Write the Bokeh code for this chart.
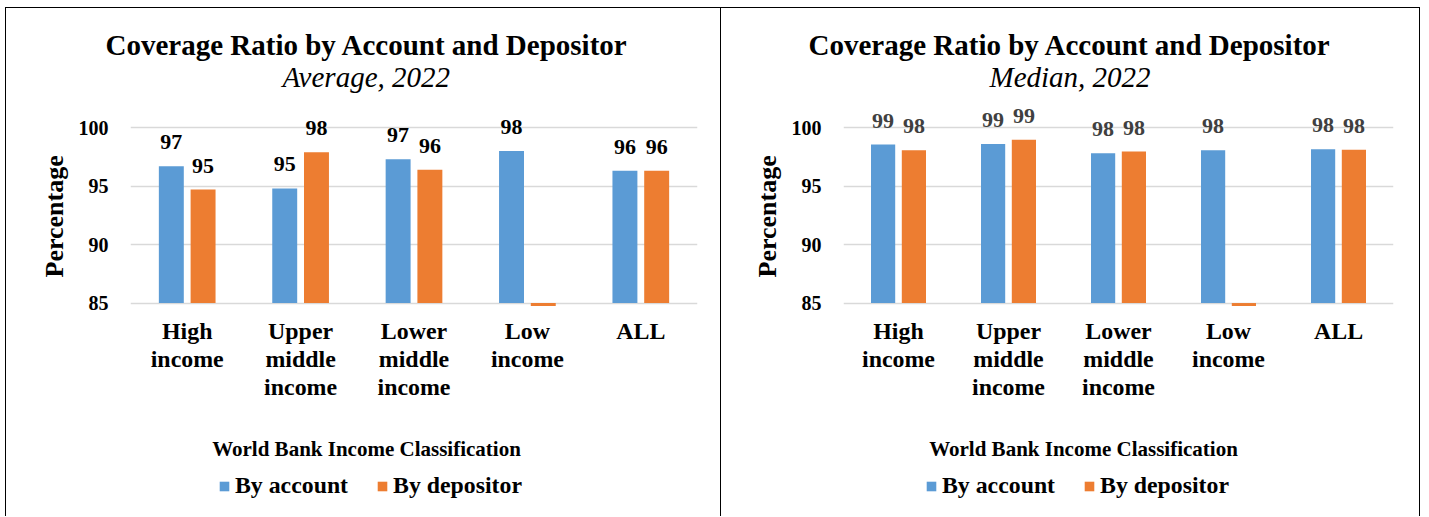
from bokeh.plotting import figure
from bokeh.models import (FactorRange, ColumnDataSource, LabelSet, Label, Title, Legend,
                          LegendItem, FixedTicker, Range1d)
from bokeh.transform import dodge
from bokeh.layouts import row
from bokeh.embed import file_html
from bokeh.resources import INLINE

# ---------------- data ----------------
categories = ["High\nincome", "Upper\nmiddle\nincome", "Lower\nmiddle\nincome", "Low\nincome", "ALL"]
avg_by_account = [96.7, 94.8, 97.3, 98.0, 96.3]
avg_by_depositor = [94.7, 97.9, 96.4, 0.0, 96.3]
med_by_account = [98.55, 98.6, 97.8, 98.05, 98.15]
med_by_depositor = [98.05, 98.95, 97.95, 0.0, 98.1]
y_ticks = [85, 90, 95, 100]
series_names = ["By account", "By depositor"]
main_title = "Coverage Ratio by Account and Depositor"
subtitles = ["Average, 2022", "Median, 2022"]
x_title = "World Bank Income Classification"
y_title = "Percentage"

FONT = "Liberation Serif"
BLUE = "#5B9BD5"
ORANGE = "#ED7D31"
Y_MIN = 85          # value axis minimum (bars start here)
CLIP = 84.75        # plot-area floor: bars below the axis minimum are cut here


def lbl(vals):
    return [f"{v:.0f}" if v >= Y_MIN else "" for v in vals]


def make_panel(width, left, right, subtitle, acc, dep, label_color,
               title_off, sub_off, axis_x, legend_x, styles):
    p = figure(x_range=FactorRange(factors=categories), y_range=Range1d(66.67, 101.8),
               width=width, height=509, output_backend="svg", toolbar_location=None,
               min_border_left=left, min_border_right=right,
               min_border_top=98, min_border_bottom=0, styles=styles)
    src = ColumnDataSource(dict(cat=categories, acc=acc, dep=dep,
                                acc_top=[max(v, CLIP) for v in acc],
                                dep_top=[max(v, CLIP) for v in dep],
                                acc_lbl=lbl(acc), dep_lbl=lbl(dep),
                                acc_y=[max(v, Y_MIN) for v in acc],
                                dep_y=[max(v, Y_MIN) for v in dep]))
    r1 = p.vbar(x=dodge("cat", -0.14, range=p.x_range), top="acc_top", bottom=Y_MIN, width=0.22,
                source=src, fill_color=BLUE, line_color=None)
    r2 = p.vbar(x=dodge("cat", 0.14, range=p.x_range), top="dep_top", bottom=Y_MIN, width=0.22,
                source=src, fill_color=ORANGE, line_color=None)
    for xo, yf, tf in [(-0.14, "acc_y", "acc_lbl"), (0.14, "dep_y", "dep_lbl")]:
        p.add_layout(LabelSet(x=dodge("cat", xo, range=p.x_range), y=yf, text=tf, source=src,
                              text_align="center", text_baseline="alphabetic", y_offset=17,
                              text_font=FONT, text_font_style="bold", text_font_size="22px",
                              text_color=label_color))

    p.outline_line_color = None
    p.background_fill_color = "white"
    p.border_fill_color = "white"
    p.xgrid.grid_line_color = None
    p.ygrid.grid_line_color = "#D9D9D9"
    p.ygrid.grid_line_width = 1.5
    p.yaxis.ticker = FixedTicker(ticks=y_ticks)

    for ax in (p.xaxis[0], p.yaxis[0]):
        ax.axis_line_color = None
        ax.major_tick_line_color = None
        ax.minor_tick_line_color = None
        ax.major_tick_out = 0
        ax.major_tick_in = 0
        ax.major_label_text_font = FONT
        ax.major_label_text_font_style = "bold"
        ax.major_label_text_color = "black"
    p.yaxis.major_label_text_font_size = "20px"
    p.yaxis.major_label_standoff = 22
    p.xaxis.fixed_location = Y_MIN
    p.xaxis.major_label_text_font_size = "23.9px"
    p.xaxis.major_label_text_line_height = 1.08
    p.xaxis.major_label_standoff = 15

    # titles (first added = closest to the frame)
    p.add_layout(Title(text=subtitle, align="left", offset=sub_off, text_font=FONT,
                       text_font_style="italic", text_font_size="29px",
                       text_color="black", standoff=27), "above")
    p.add_layout(Title(text=main_title, align="left", offset=title_off, text_font=FONT,
                       text_font_style="bold", text_font_size="29px",
                       text_color="black", standoff=-30), "above")
    # value-axis title, placed beside the tick labels
    p.add_layout(Title(text=y_title, align="left", offset=240, text_font=FONT,
                       text_font_style="bold", text_font_size="26px",
                       text_color="black", standoff=14), "left")

    # category-axis title and legend inside the frame (screen px from frame bottom-left)
    p.add_layout(Label(x=axis_x, y=68.7, x_units="screen", y_units="screen", text=x_title,
                       text_align="center", text_baseline="middle", text_font=FONT,
                       text_font_style="bold", text_font_size="21px", text_color="black"))

    legend = Legend(items=[LegendItem(label=series_names[0], renderers=[r1]),
                           LegendItem(label=series_names[1], renderers=[r2])],
                    orientation="horizontal", location=(legend_x, 18),
                    glyph_width=12, glyph_height=12, label_standoff=5, spacing=28,
                    padding=0, margin=0, border_line_color=None, background_fill_alpha=0,
                    label_text_font=FONT, label_text_font_style="bold",
                    label_text_font_size="23.8px", label_text_color="black")
    p.add_layout(legend, "center")
    return p


p1 = make_panel(716, 124, 25, subtitles[0], avg_by_account, avg_by_depositor, "black",
                -25, 152, 236, 88,
                {"margin-top": "7px", "margin-left": "5px",
                 "border-top": "1px solid black", "border-left": "1px solid black",
                 "border-right": "1px solid black"})
p2 = make_panel(699, 122, 27, subtitles[1], med_by_account, med_by_depositor, "#404040",
                -35, 146, 240, 82,
                {"margin-top": "7px",
                 "border-top": "1px solid black", "border-right": "1px solid black"})

layout = row(p1, p2, spacing=0)
open("out.html", "w").write(file_html(layout, INLINE))
